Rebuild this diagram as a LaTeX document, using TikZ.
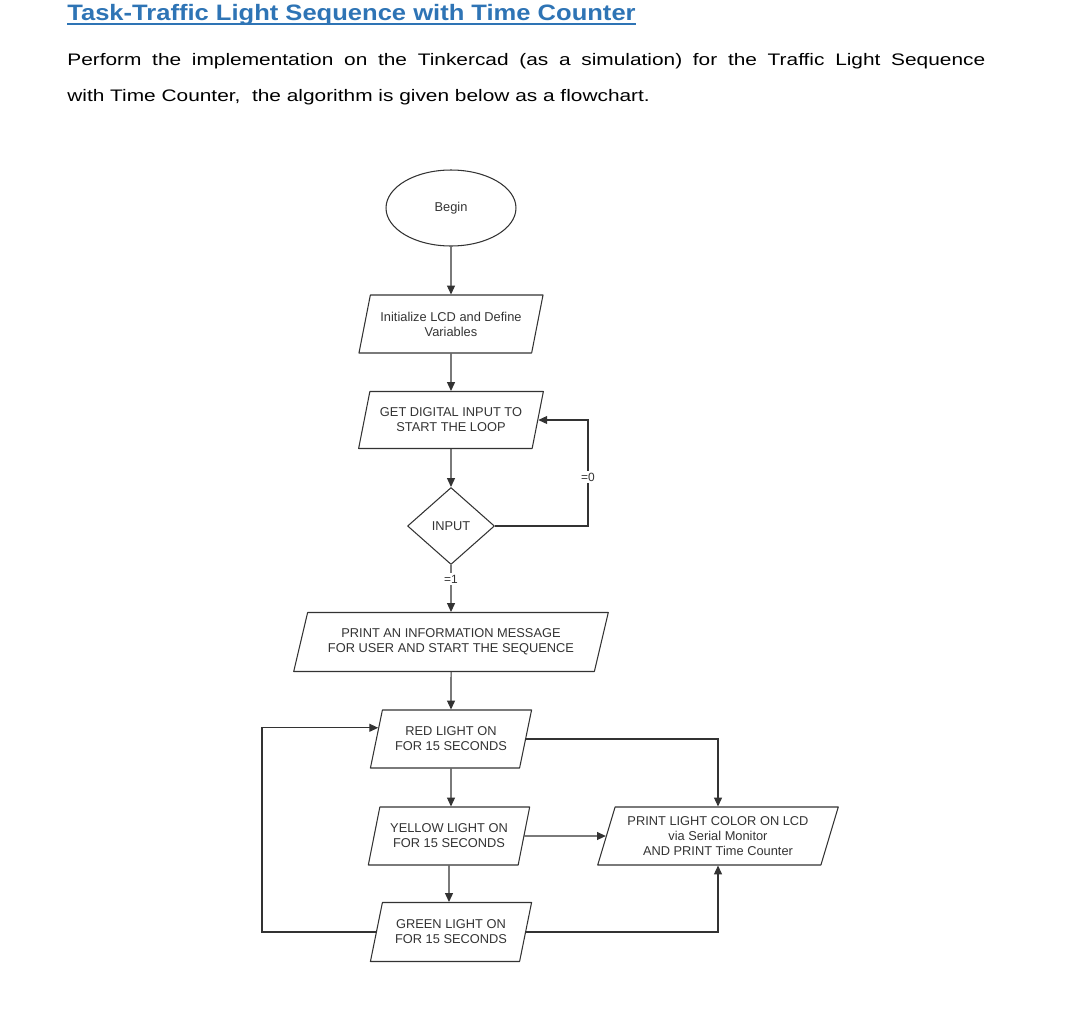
\documentclass[tikz,border=0pt]{standalone}
\usepackage{fontspec}
\setmainfont{Liberation Sans}
\usetikzlibrary{shapes.geometric,arrows.meta,calc}
\definecolor{titleblue}{HTML}{2E74B5}
\definecolor{chartgray}{HTML}{333333}
\tikzset{
  io/.style={trapezium,trapezium left angle=70,trapezium right angle=110,
    trapezium stretches=true,draw=chartgray,line width=0.6pt,line join=round,align=center,
    inner sep=1pt,text=chartgray,font=\fontsize{7.3}{8.6}\selectfont},
  flow/.style={draw=chartgray,line width=0.6pt,-{Triangle[length=5pt,width=4.5pt]}},
}
\begin{document}
\begin{tikzpicture}[x=0.02cm,y=-0.02cm]
  \useasboundingbox (0,0) rectangle (1080,1015);

  \node[anchor=base west,inner sep=0pt,text=titleblue,font=\fontsize{12.7}{14}\selectfont\bfseries] (title) at (67,20)
    {\scalebox{1.145}[1]{Task-Traffic Light Sequence with Time Counter}};
  \draw[titleblue,line width=1.1pt] ([yshift=-2.2pt]title.base west) -- ([yshift=-2.2pt]title.base east);
  \node[anchor=base west,inner sep=0pt,font=\fontsize{9.5}{21}\selectfont] (intro) at (67,65)
    {\scalebox{1.25}[1]{\parbox[t]{14.69cm}{\fontsize{9.5}{21}\selectfont
     Perform the implementation on the Tinkercad (as a simulation) for the Traffic Light Sequence\linebreak
     with Time Counter,\ \ the algorithm is given below as a flowchart.}}};

  \begin{scope}[every node/.style={io}]
    \node[ellipse,minimum width=2.6cm,minimum height=1.52cm] (begin) at (451,208) {Begin};
    \node[minimum width=3.7cm,minimum height=1.16cm] (init) at (451,324) {Initialize LCD and Define\\Variables};
    \node[minimum width=3.7cm,minimum height=1.14cm] (get) at (451,420) {GET DIGITAL INPUT TO\\START THE LOOP};
    \node[diamond,minimum width=1.74cm,minimum height=1.54cm,inner sep=0pt] (input) at (451,526) {INPUT};
    \node[minimum width=6.3cm,minimum height=1.18cm,trapezium left angle=68,trapezium right angle=112] (print) at (451,642) {PRINT AN INFORMATION MESSAGE\\FOR USER AND START THE SEQUENCE};
    \node[minimum width=3.24cm,minimum height=1.16cm] (red) at (451,739) {RED LIGHT ON\\FOR 15 SECONDS};
    \node[minimum width=3.24cm,minimum height=1.16cm] (yellow) at (449,836) {YELLOW LIGHT ON\\FOR 15 SECONDS};
    \node[minimum width=3.24cm,minimum height=1.18cm] (green) at (451,932) {GREEN LIGHT ON\\FOR 15 SECONDS};
    \node[minimum width=4.82cm,minimum height=1.16cm] (lcd) at (718,836) {PRINT LIGHT COLOR ON LCD\\via Serial Monitor\\AND PRINT Time Counter};
  \end{scope}

  \coordinate (loopx) at (588,0);
  \coordinate (backx) at (262,0);
  \coordinate (redin) at ($(red.top left corner)!0.31!(red.bottom left corner)$);

  \begin{scope}[every node/.style={fill=white,inner sep=1pt,text=chartgray,font=\fontsize{6.8}{8}\selectfont}]
    \begin{scope}[every edge/.style={flow}]
      \path (begin) edge (init);
      \path (init) edge (get);
      \path (get) edge (input);
      \path (input) edge node[pos=0.3] {=1} (print);
      \path (print) edge (red);
      \path (red) edge (red |- yellow.north);
      \path (yellow) edge (yellow |- green.north);
      \path (yellow) edge (lcd);
    \end{scope}
    \draw[flow] (input.east) -- (input.east -| loopx) |- node[pos=0.23] {=0} (get.east);
    \draw[flow] (red.east) -| (lcd.north);
    \draw[flow] (green.east) -| (lcd.south);
    \draw[flow] (green.west) -- (green.west -| backx) |- (redin);
  \end{scope}

\end{tikzpicture}
\end{document}
